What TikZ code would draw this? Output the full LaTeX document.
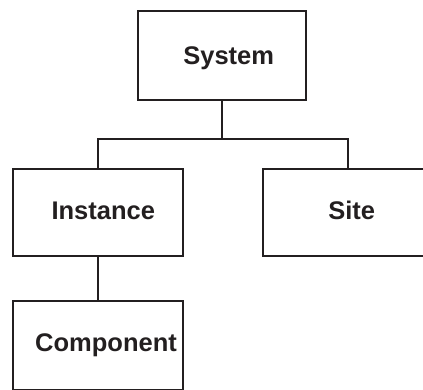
\documentclass[tikz,border=0pt]{standalone}
\usepackage{fontspec}
\setmainfont{Liberation Sans}
\definecolor{ink}{HTML}{231F20}
\begin{document}
\begin{tikzpicture}[x=1pt,y=-1pt,
  box/.style={draw=ink,line width=1.9pt,inner sep=0pt,anchor=north west},
  tag/.style={text=ink,font=\bfseries\fontsize{25.5}{30}\selectfont,inner sep=0pt,anchor=base},
  wire/.style={draw=ink,line width=1.9pt}]
  \useasboundingbox (0,0) rectangle (423,389);
  \clip (0,0) rectangle (423,389);

  % boxes of the hierarchy
  \node[box,minimum width=168pt,minimum height=89pt] (sys)  at (137,10)  {};
  \node[box,minimum width=170pt,minimum height=87pt] (inst) at (12,168)  {};
  \node[box,minimum width=170pt,minimum height=87pt] (site) at (262,168) {};
  \node[box,minimum width=170pt,minimum height=89pt] (comp) at (12,300)  {};

  % box titles
  \node[tag] (sysT)  at (228.7,64)    {System};
  \node[tag] (instT) at (103.3,219.3) {Instance};
  \node[tag] (siteT) at (351.7,219.3) {Site};
  \node[tag] (compT) at (106,351.7)   {Component};

  % tree connectors
  \coordinate (fork) at ([yshift=-38pt]sys.south);
  \draw[wire] (sys.south) -- (fork);
  \draw[wire] (inst.north) |- (fork) -| (site.north);
  \draw[wire] (inst.south) -- (comp.north);
\end{tikzpicture}
\end{document}
